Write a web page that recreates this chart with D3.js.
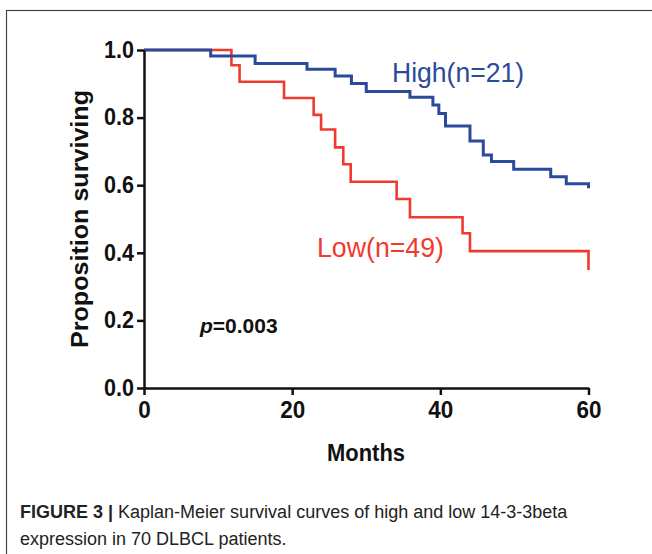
<!DOCTYPE html>
<html>
<head>
<meta charset="utf-8">
<script src="https://cdn.jsdelivr.net/npm/d3@7"></script>
<style>
  html, body { margin: 0; padding: 0; background: #fff; }
  svg { display: block; font-family: "Liberation Sans", Arial, sans-serif; }
  .axis path, .axis line { stroke: #111; stroke-width: 2.5; }
  .axis text { font-size: 23px; font-weight: bold; fill: #111; }
</style>
</head>
<body>
<div id="chart"></div>
<script>
// Kaplan-Meier curves (months, proportion surviving)
const highMonths = [0, 9, 15, 22, 25.8, 28, 30, 35.9, 39, 39.8, 40.7, 44, 45.8, 46.9, 49.9, 54.9, 57, 60];
const highSurv   = [1.0, 0.982, 0.960, 0.943, 0.923, 0.901, 0.877, 0.860, 0.837, 0.812, 0.775, 0.731, 0.689, 0.670, 0.647, 0.625, 0.604, 0.591];

const lowMonths = [0, 11.8, 12.9, 18.9, 22.9, 23.9, 25.8, 26.9, 27.9, 34.1, 35.9, 43.0, 44.0, 60];
const lowSurv   = [1.0, 0.955, 0.906, 0.858, 0.808, 0.765, 0.712, 0.662, 0.610, 0.559, 0.505, 0.458, 0.405, 0.349];

const xTicks = [0, 20, 40, 60];
const yTicks = [0, 0.2, 0.4, 0.6, 0.8, 1.0];

const W = 652, H = 554;
const svg = d3.select("#chart").append("svg")
    .attr("width", W).attr("height", H);

// figure frame
svg.append("rect")
    .attr("x", 6.5).attr("y", 10.5)
    .attr("width", 700).attr("height", 600)
    .attr("fill", "none")
    .attr("stroke", "#444")
    .attr("stroke-width", 1.2);

const x = d3.scaleLinear().domain([0, 60]).range([144, 588.5]);
const y = d3.scaleLinear().domain([0, 1]).range([388, 50]);

const line = d3.line()
    .x((d) => x(d[0]))
    .y((d) => y(d[1]))
    .curve(d3.curveStepAfter);

const lowData = lowMonths.map((m, i) => [m, lowSurv[i]]);
const highData = highMonths.map((m, i) => [m, highSurv[i]]);

svg.append("path")
    .datum(lowData)
    .attr("fill", "none")
    .attr("stroke", "#f03a2e")
    .attr("stroke-width", 2.6)
    .attr("d", line);

svg.append("path")
    .datum(highData)
    .attr("fill", "none")
    .attr("stroke", "#2b4a9c")
    .attr("stroke-width", 3)
    .attr("d", line);

// axes — condensed-looking bold digits, as in the figure
const xAxis = svg.append("g")
    .attr("class", "axis")
    .attr("transform", `translate(0,${y(0)})`)
    .call(d3.axisBottom(x).tickValues(xTicks).tickSize(7).tickSizeOuter(0).tickPadding(5));
xAxis.selectAll("text")
    .attr("dy", "0.8em")
    .attr("textLength", (d) => String(d).length * 12.5)
    .attr("lengthAdjust", "spacingAndGlyphs");

const yAxis = svg.append("g")
    .attr("class", "axis")
    .attr("transform", `translate(${x(0)},0)`)
    .call(d3.axisLeft(y).tickValues(yTicks).tickFormat(d3.format(".1f"))
        .tickSize(7).tickSizeOuter(0).tickPadding(3));
yAxis.selectAll("text")
    .attr("textLength", 30)
    .attr("lengthAdjust", "spacingAndGlyphs");

// axis titles
svg.append("text")
    .attr("x", 366).attr("y", 461)
    .attr("font-size", 24).attr("font-weight", "bold")
    .attr("text-anchor", "middle")
    .attr("fill", "#111")
    .attr("textLength", 78).attr("lengthAdjust", "spacingAndGlyphs")
    .text("Months");

svg.append("text")
    .attr("transform", "translate(88,219) rotate(-90)")
    .attr("text-anchor", "middle")
    .attr("font-size", 23).attr("font-weight", "bold")
    .attr("fill", "#111")
    .attr("textLength", 258).attr("lengthAdjust", "spacingAndGlyphs")
    .text("Proposition surviving");

// series labels
svg.append("text")
    .attr("x", 392).attr("y", 82)
    .attr("font-size", 27).attr("fill", "#2b4a9c")
    .attr("textLength", 132).attr("lengthAdjust", "spacingAndGlyphs")
    .text("High(n=21)");

svg.append("text")
    .attr("x", 317).attr("y", 257)
    .attr("font-size", 27).attr("fill", "#f03a2e")
    .attr("textLength", 127).attr("lengthAdjust", "spacingAndGlyphs")
    .text("Low(n=49)");

const pText = svg.append("text")
    .attr("x", 200).attr("y", 333)
    .attr("font-size", 21).attr("font-weight", "bold")
    .attr("fill", "#111");
pText.append("tspan").attr("font-style", "italic").text("p");
pText.append("tspan").text("=0.003");

// caption
const cap1 = svg.append("text")
    .attr("x", 20).attr("y", 518)
    .attr("font-size", 18).attr("fill", "#222");
cap1.append("tspan").attr("font-weight", "bold").text("FIGURE 3 | ");
cap1.append("tspan").text("Kaplan-Meier survival curves of high and low 14-3-3beta");
svg.append("text")
    .attr("x", 20).attr("y", 545)
    .attr("font-size", 18).attr("fill", "#222")
    .text("expression in 70 DLBCL patients.");
</script>
</body>
</html>
